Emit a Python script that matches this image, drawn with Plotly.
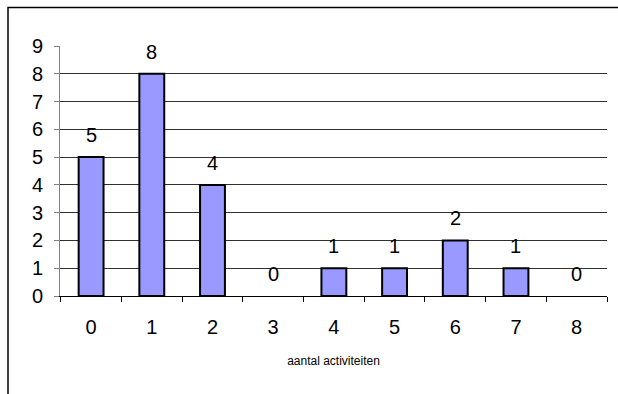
import plotly.graph_objects as go

categories = ["0", "1", "2", "3", "4", "5", "6", "7", "8"]
counts = [5, 8, 4, 0, 1, 1, 2, 1, 0]
y_ticks = list(range(0, 10))
grid_vals = list(range(1, 9))
x_title = "aantal activiteiten"

W, H = 618, 394
L, R, T, B = 60, 11, 46, 98
pw, ph = W - L - R, H - T - B

NUM_FONT = "Liberation Sans, Arial, sans-serif"
NUM_SIZE = 20

def px_x(p):
    return (p - L) / pw

def px_y(p):
    return (H - B - p) / ph

fig = go.Figure()
# invisible helper trace so the grid axis is drawn
fig.add_trace(go.Scatter(x=[categories[0]], y=[0], yaxis="y2", mode="markers",
                         marker=dict(opacity=0), hoverinfo="skip"))
fig.add_trace(go.Bar(
    x=categories, y=counts,
    marker=dict(color="#9999FF",
                line=dict(color="black", width=[2 if v > 0 else 0 for v in counts])),
    hoverinfo="skip",
))

for c, v in zip(categories, counts):
    fig.add_annotation(x=c, y=v, text=str(v), showarrow=False,
                       yshift=22, font=dict(size=NUM_SIZE, color="black", family=NUM_FONT))

frame_path = (f"M {px_x(8)} {px_y(410)} L {px_x(8)} {px_y(7.5)} "
              f"L {px_x(630)} {px_y(7.5)}")
fig.add_shape(type="path", path=frame_path, xref="paper", yref="paper",
              line=dict(color="black", width=1.5), layer="above")

fig.update_layout(
    width=W, height=H,
    margin=dict(l=L, r=R, t=T, b=B, pad=0),
    paper_bgcolor="white", plot_bgcolor="white",
    bargap=0.59, showlegend=False,
    font=dict(family=NUM_FONT, color="black", size=NUM_SIZE),
    xaxis=dict(
        type="category", tickson="boundaries", ticks="outside", ticklen=5,
        tickcolor="black", showline=True, linecolor="black", linewidth=1,
        showgrid=False, tickfont=dict(size=NUM_SIZE, family=NUM_FONT),
        ticklabelstandoff=13,
        title=dict(text=x_title, standoff=19,
                   font=dict(size=12, family="Liberation Sans Narrow, Liberation Sans, Arial")),
    ),
    yaxis=dict(
        range=[0, 9], tickmode="array", tickvals=y_ticks,
        ticks="outside", ticklen=5, tickcolor="#808080",
        showline=True, linecolor="#808080", linewidth=1,
        showgrid=False, zeroline=False, tickfont=dict(size=NUM_SIZE, family=NUM_FONT),
        ticklabelstandoff=7,
    ),
    yaxis2=dict(
        range=[0, 9], overlaying="y", side="left", tickmode="array",
        tickvals=grid_vals, showticklabels=False, ticks="",
        showgrid=True, gridcolor="#303030", gridwidth=1,
        zeroline=False, showline=False, layer="below traces",
    ),
)

fig.write_html("out.html")
